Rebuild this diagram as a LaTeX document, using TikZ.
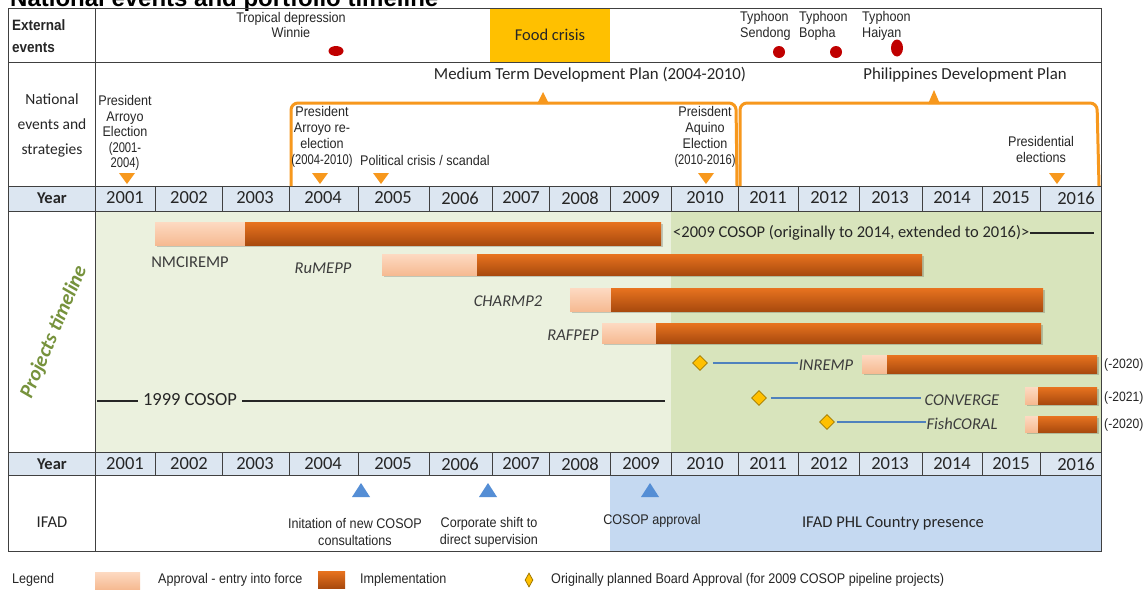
\documentclass[tikz,border=0pt]{standalone}
\usepackage{fontspec}
\setmainfont{Carlito}
\newfontfamily\nar[FakeStretch=0.9]{Liberation Sans}
\newfontfamily\narr[FakeStretch=0.8]{Liberation Sans}
\newfontfamily\arl{Liberation Sans}
\usetikzlibrary{shapes.geometric}
\definecolor{gridc}{HTML}{404040}
\definecolor{yearbg}{HTML}{DCE6F1}
\definecolor{pgreenA}{HTML}{EBF1DE}
\definecolor{pgreenB}{HTML}{D8E4BC}
\definecolor{ifadblue}{HTML}{C5D9F1}
\definecolor{triblue}{HTML}{558ED5}
\definecolor{orangeL}{HTML}{F7981D}
\definecolor{foodY}{HTML}{FFC000}
\definecolor{goldb}{HTML}{A07800}
\definecolor{dotred}{HTML}{C00000}
\definecolor{olive}{HTML}{76923C}
\definecolor{lineblue}{HTML}{4F81BD}
\definecolor{txt}{HTML}{262626}
\definecolor{implTop}{HTML}{E8731F}
\definecolor{implMid}{HTML}{D35F12}
\definecolor{implBot}{HTML}{A94A0E}
\definecolor{apprTop}{HTML}{FDDAC2}
\definecolor{apprBot}{HTML}{F6BA92}
\tikzset{
  yr/.style={font=\fontsize{18.5}{20}\selectfont, text=txt, inner sep=0},
  hdr/.style={font=\bfseries\fontsize{16.5}{18}\selectfont, text=txt, inner sep=0},
  small/.style={font=\nar\fontsize{14}{15.5}\selectfont, text=txt, inner sep=0, align=center},
  cal/.style={font=\fontsize{16.5}{18}\selectfont, text=txt, inner sep=0},
  plab/.style={font=\itshape\fontsize{16.5}{18}\selectfont, text=txt!90, inner sep=0},
  tail/.style={font=\nar\fontsize{13.5}{15}\selectfont, text=txt, inner sep=0, anchor=west},
  gold/.style={diamond, draw=goldb, fill=foodY, line width=0.8pt, inner sep=0, minimum size=15},
  pipe/.style={draw=lineblue, line width=1.6pt},
  brk/.style={draw=orangeL, line width=3pt, rounded corners=7pt},
  gridln/.style={draw=gridc, line width=0.9pt},
  cosopln/.style={draw=black!85, line width=1.5pt},
}
\newcommand\projbar[5]{%
  \fill[black, opacity=0.18] (#3+1.5,#1+2) rectangle (#5+1.5,#2+2);
  \shade[top color=apprTop, bottom color=apprBot] (#3,#1) rectangle (#4,#2);
  \shade[top color=implTop, middle color=implMid, bottom color=implBot] (#4,#1) rectangle (#5,#2);
}
\begin{document}
\begin{tikzpicture}[x=1pt,y=-1pt]
\useasboundingbox (0,0) rectangle (1145,589);
\fill[white] (0,0) rectangle (1145,589);
% title (cut by the page edge, as in the reference)
\node[font=\arl\bfseries\fontsize{24}{26}\selectfont, anchor=base west, inner sep=0] (title) at (10,6) {National events and portfolio timeline};
% backgrounds
\fill[foodY] (490,8) rectangle (610,62);
\fill[yearbg] (8,186) rectangle (1101,211);
\fill[yearbg] (8,452) rectangle (1101,475);
\fill[pgreenA] (95,211) rectangle (671,452);
\fill[pgreenB] (671,211) rectangle (1101,452);
\fill[ifadblue] (610,475) rectangle (1101,551);
% grid
\draw[gridln] (8,8) rectangle (1101,551);
\foreach \y in {62,186,211,452,475} \draw[gridln] (8,\y) -- (1101,\y);
\draw[gridln] (95,8) -- (95,551);
\foreach \x in {155,222,289,358,429,492,549,610,671,738,798,859,922,982,1040} {
  \draw[gridln] (\x,186) -- (\x,211);
  \draw[gridln] (\x,452) -- (\x,475);
}
% row headers
\node[font=\nar\bfseries\fontsize{15}{22}\selectfont, text=txt, inner sep=0, align=left, anchor=west] (hext) at (12,36) {External\\events};
\node[font=\fontsize{15.5}{25}\selectfont, text=txt, inner sep=0, align=center] (hnat) at (52,125) {National\\events and\\strategies};
\node[hdr] (hyear1) at (52,198) {Year};
\node[hdr] (hyear2) at (52,464) {Year};
\node[cal] (hifad) at (52,522) {IFAD};
\node[font=\bfseries\itshape\fontsize{20.5}{22}\selectfont, text=olive, inner sep=0, rotate=67] (hproj) at (54,332) {Projects timeline};
% years
\foreach \x/\y in {125/2001,189/2002,255/2003,323/2004,393/2005,460/2006,521/2007,580/2008,641/2009,705/2010,768/2011,829/2012,890/2013,952/2014,1011/2015,1076/2016} {
  \node[yr] (yt\y) at (\x,198) {\y};
  \node[yr] (yb\y) at (\x,464) {\y};
}
% external events
\node[cal] (food) at (550,35) {Food crisis};
\node[small] (winnie) at (291,25) {Tropical depression\\Winnie};
\node[small, align=left, anchor=west] (sendong) at (740,26) {Typhoon\\Sendong};
\node[small, align=left, anchor=west] (bopha) at (799,26) {Typhoon\\Bopha};
\node[small, align=left, anchor=west] (haiyan) at (862,26) {Typhoon\\Haiyan};
\fill[dotred] (336,51) ellipse (7.5 and 5);
\fill[dotred] (779,52) circle (6);
\fill[dotred] (836,52) circle (6);
\fill[dotred] (897,48) ellipse (6 and 8.5);
% national events
\draw[brk] (291,186) -- (291,103) -- (736,103) -- (737,186);
\draw[brk] (740,186) -- (740,103) -- (1097,103) -- (1099,186);
\fill[orangeL] (537,104) -- (543,92) -- (549,104) -- cycle;
\fill[orangeL] (928,104) -- (934,90) -- (940,104) -- cycle;
\node[cal, font=\fontsize{16.8}{18}\selectfont] (mtdp) at (590,75) {Medium Term Development Plan (2004-2010)};
\node[cal, font=\fontsize{16.8}{18}\selectfont] (pdp) at (965,75) {Philippines Development Plan};
\foreach \x in {127,320,381,706,1057}
  \fill[orangeL] (\x-8,173) -- (\x+8,173) -- (\x,184) -- cycle;
\node[small] (arroyo1) at (125,133) {President\\Arroyo\\Election\\{\narr(2001-}\\{\narr2004)}};
\node[small, font=\nar\fontsize{14}{16}\selectfont] (arroyo2) at (322,137) {President\\Arroyo re-\\election\\{\narr(2004-2010)}};
\node[small, anchor=west] (crisis) at (360,160) {Political crisis / scandal};
\node[small, font=\nar\fontsize{14}{16}\selectfont] (aquino) at (705,137) {Preisdent\\Aquino\\Election\\{\narr(2010-2016)}};
\node[small, font=\nar\fontsize{14}{16}\selectfont] (pres) at (1041,149) {Presidential\\elections};
% projects
\projbar{222}{245}{155}{245}{661}
\projbar{254}{275}{382}{477}{922}
\projbar{288}{311}{570}{611}{1043}
\projbar{323}{343}{602}{656}{1041}
\projbar{355}{373}{862}{887}{1097}
\projbar{387}{404}{1025}{1038}{1097}
\projbar{416}{432}{1025}{1038}{1097}
\node[cal, text=txt!90] (nmc) at (190,262) {NMCIREMP};
\node[plab] (rumepp) at (323,268) {RuMEPP};
\node[plab] (charmp) at (508,301) {CHARMP2};
\node[plab] (rafpep) at (573,335) {RAFPEP};
\node[cal, anchor=west] (cosop09) at (673,233) {<2009 COSOP (originally to 2014, extended to 2016)>};
\coordinate (c09end) at (1094,233);
\draw[cosopln] (cosop09.east) -- (c09end);
\node[font=\fontsize{18.5}{20}\selectfont, text=txt, inner sep=0] (cosop99) at (190,400) {1999 COSOP};
\coordinate (c99a) at (97,401);
\coordinate (c99b) at (665,401);
\draw[cosopln] (c99a) -- ([xshift=-5pt]c99a -| cosop99.west);
\draw[cosopln] ([xshift=5pt]c99b -| cosop99.east) -- (c99b);
\node[gold] (dinr) at (700,363) {};
\node[gold] (dcon) at (759,398) {};
\node[gold] (dfish) at (827,422) {};
\node[plab] (inremp) at (826,365) {INREMP};
\node[plab] (conv) at (962,400) {CONVERGE};
\node[plab] (fish) at (962,424) {FishCORAL};
\draw[pipe, shorten <=5pt, shorten >=1pt] (dinr.east) -- (dinr.east -| inremp.west);
\draw[pipe, shorten <=4pt, shorten >=4pt] (dcon.east) -- (dcon.east -| conv.west);
\draw[pipe, shorten <=2pt] (dfish.east) -- (dfish.east -| fish.west);
\node[tail] (t1) at (1104,365) {(-2020)};
\node[tail] (t2) at (1104,398) {(-2021)};
\node[tail] (t3) at (1104,425) {(-2020)};
% IFAD
\foreach \x in {361,488,650}
  \fill[triblue] (\x-9,497) -- (\x+9,497) -- (\x,483) -- cycle;
\node[small, font=\nar\fontsize{14}{17}\selectfont] (initcosop) at (355,532) {Initation of new COSOP\\consultations};
\node[small, font=\nar\fontsize{14}{17}\selectfont] (corp) at (489,532) {Corporate shift to\\direct supervision};
\node[small] (capp) at (652,521) {COSOP approval};
\node[cal] (phl) at (893,523) {IFAD PHL Country presence};
% legend
\node[small, anchor=west] (leg) at (12,580) {Legend};
\shade[top color=apprTop, bottom color=apprBot] (95,572) rectangle (140,589);
\node[small, anchor=west] (legA) at (158,580) {Approval - entry into force};
\shade[top color=implTop, middle color=implMid, bottom color=implBot] (318,571) rectangle (345,588);
\node[small, anchor=west] (legI) at (360,580) {Implementation};
\node[diamond, draw=goldb, fill=foodY, line width=0.8pt, inner sep=0, minimum width=8, minimum height=14] (legD) at (529,580) {};
\node[small, anchor=west] (legO) at (551,580) {Originally planned Board Approval (for 2009 COSOP pipeline projects)};
\end{tikzpicture}
\end{document}
